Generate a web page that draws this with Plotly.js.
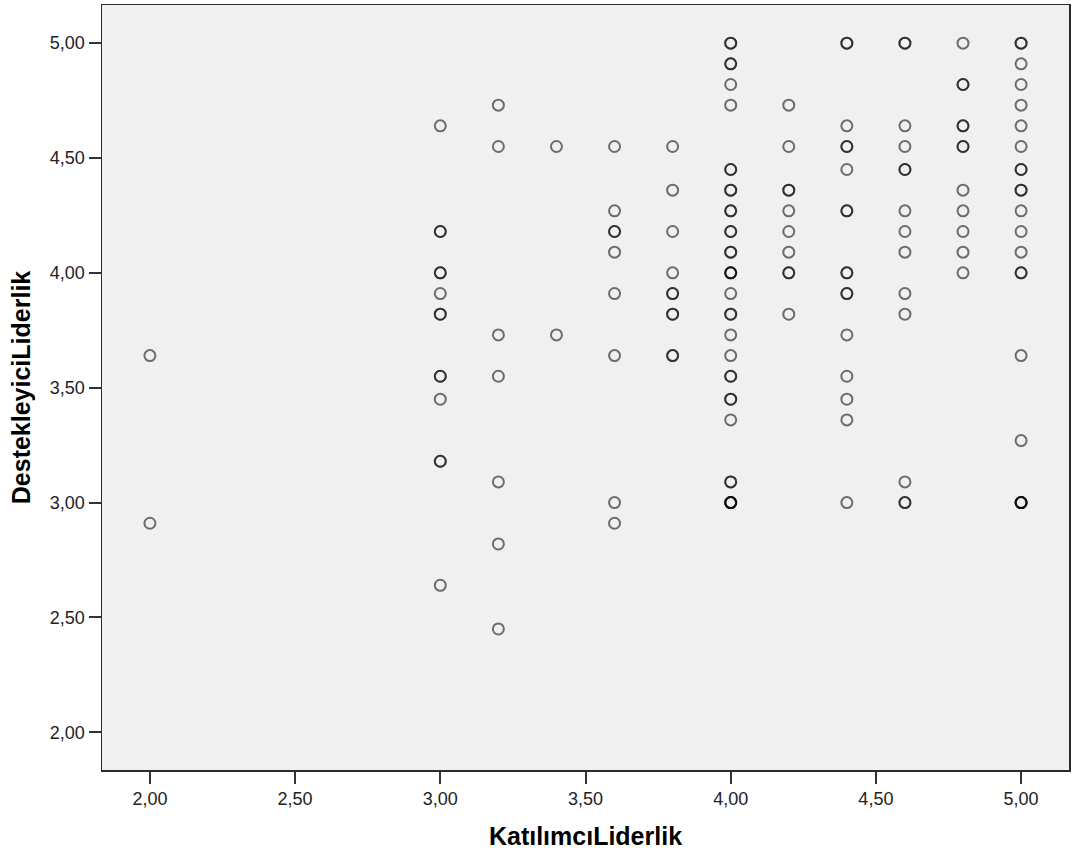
<!DOCTYPE html>
<html>
<head>
<meta charset="utf-8">
<script src="https://cdn.plot.ly/plotly-3.0.1.min.js"></script>
<style>
html,body{margin:0;padding:0;background:#fff;}
#chart{width:1072px;height:859px;}
</style>
</head>
<body>
<div id="chart"></div>
<script>
// KatılımcıLiderlik (x) values; repeated pairs are overlapping respondents
const katilimciLiderlik = [
  2.00, 2.00,
  3.00, 3.00, 3.00, 3.00, 3.00, 3.00, 3.00, 3.00, 3.00, 3.00, 3.00, 3.00, 3.00, 3.00,
  3.20, 3.20, 3.20, 3.20, 3.20, 3.20, 3.20,
  3.40, 3.40,
  3.60, 3.60, 3.60, 3.60, 3.60, 3.60, 3.60, 3.60, 3.60,
  3.80, 3.80, 3.80, 3.80, 3.80, 3.80, 3.80, 3.80, 3.80, 3.80,
  4.00, 4.00, 4.00, 4.00, 4.00, 4.00, 4.00, 4.00, 4.00, 4.00, 4.00, 4.00, 4.00, 4.00, 4.00, 4.00, 4.00, 4.00, 4.00, 4.00, 4.00, 4.00, 4.00, 4.00, 4.00, 4.00, 4.00, 4.00, 4.00, 4.00, 4.00, 4.00, 4.00, 4.00, 4.00,
  4.20, 4.20, 4.20, 4.20, 4.20, 4.20, 4.20, 4.20, 4.20, 4.20,
  4.40, 4.40, 4.40, 4.40, 4.40, 4.40, 4.40, 4.40, 4.40, 4.40, 4.40, 4.40, 4.40, 4.40, 4.40, 4.40, 4.40,
  4.60, 4.60, 4.60, 4.60, 4.60, 4.60, 4.60, 4.60, 4.60, 4.60, 4.60, 4.60, 4.60, 4.60,
  4.80, 4.80, 4.80, 4.80, 4.80, 4.80, 4.80, 4.80, 4.80, 4.80, 4.80, 4.80,
  5.00, 5.00, 5.00, 5.00, 5.00, 5.00, 5.00, 5.00, 5.00, 5.00, 5.00, 5.00, 5.00, 5.00, 5.00, 5.00, 5.00, 5.00, 5.00, 5.00, 5.00, 5.00
];
// DestekleyiciLiderlik (y) values, same order
const destekleyiciLiderlik = [
  3.64, 2.91,
  4.64, 4.18, 4.18, 4.00, 4.00, 3.91, 3.82, 3.82, 3.55, 3.55, 3.45, 3.18, 3.18, 2.64,
  4.73, 4.55, 3.73, 3.55, 3.09, 2.82, 2.45,
  4.55, 3.73,
  4.55, 4.27, 4.18, 4.18, 4.09, 3.91, 3.64, 3.00, 2.91,
  4.55, 4.36, 4.18, 4.00, 3.91, 3.91, 3.82, 3.82, 3.64, 3.64,
  5.00, 5.00, 4.91, 4.91, 4.82, 4.73, 4.45, 4.45, 4.36, 4.36, 4.27, 4.27, 4.18, 4.18, 4.09, 4.09, 4.00, 4.00, 4.00, 3.91, 3.82, 3.82, 3.73, 3.64, 3.55, 3.55, 3.45, 3.45, 3.36, 3.09, 3.09, 3.00, 3.00, 3.00, 3.00,
  4.73, 4.55, 4.36, 4.36, 4.27, 4.18, 4.09, 4.00, 4.00, 3.82,
  5.00, 5.00, 4.64, 4.55, 4.55, 4.45, 4.27, 4.27, 4.00, 4.00, 3.91, 3.91, 3.73, 3.55, 3.45, 3.36, 3.00,
  5.00, 5.00, 4.64, 4.55, 4.45, 4.45, 4.27, 4.18, 4.09, 3.91, 3.82, 3.09, 3.00, 3.00,
  5.00, 4.82, 4.82, 4.64, 4.64, 4.55, 4.55, 4.36, 4.27, 4.18, 4.09, 4.00,
  5.00, 5.00, 4.91, 4.82, 4.73, 4.64, 4.55, 4.45, 4.45, 4.36, 4.36, 4.27, 4.18, 4.09, 4.00, 4.00, 3.64, 3.27, 3.00, 3.00, 3.00, 3.00
];
const xTitle = "KatılımcıLiderlik";
const yTitle = "DestekleyiciLiderlik";
const tickValues = [2.0, 2.5, 3.0, 3.5, 4.0, 4.5, 5.0];

const trace = {
  type: "scatter",
  mode: "markers",
  x: katilimciLiderlik,
  y: destekleyiciLiderlik,
  marker: {
    symbol: "circle-open",
    size: 11,
    color: "#000000",
    opacity: 0.55,
    line: {width: 2}
  },
  hoverinfo: "x+y"
};

const axisCommon = {
  showgrid: false,
  zeroline: false,
  showline: true,
  mirror: true,
  linecolor: "#2b2b2b",
  linewidth: 1.5,
  ticks: "outside",
  ticklen: 12,
  tickwidth: 2,
  tickcolor: "#333333",
  tickvals: tickValues,
  tickformat: ".2f",
  tickfont: {family: "Liberation Sans, Arial, sans-serif", size: 18, color: "#222222"},
  automargin: false
};

const layout = {
  width: 1072,
  height: 859,
  margin: {l: 102, r: 3, t: 5, b: 89},
  paper_bgcolor: "#ffffff",
  plot_bgcolor: "#f0f0f0",
  separators: ",.",
  showlegend: false,
  xaxis: Object.assign({}, axisCommon, {
    range: [1.835, 5.165],
    title: {text: xTitle, standoff: 19,
      font: {family: "Liberation Sans, Arial, sans-serif", size: 25, color: "#000000", weight: "bold"}}
  }),
  yaxis: Object.assign({}, axisCommon, {
    range: [1.836, 5.166],
    title: {text: yTitle, standoff: 12,
      font: {family: "Liberation Sans, Arial, sans-serif", size: 25, color: "#000000", weight: "bold"}}
  })
};

Plotly.newPlot("chart", [trace], layout, {displayModeBar: false, staticPlot: true});
</script>
</body>
</html>
